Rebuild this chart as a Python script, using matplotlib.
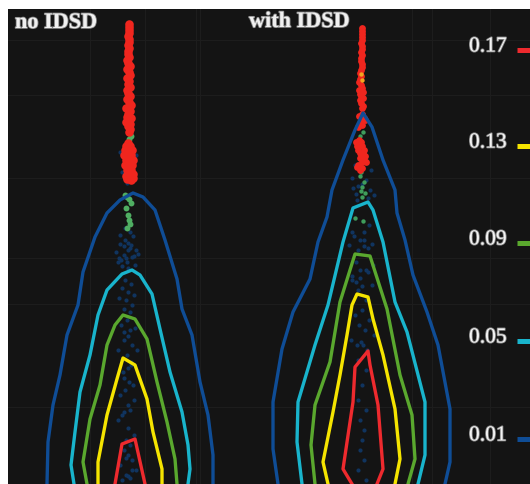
import matplotlib
matplotlib.use("Agg")
import matplotlib.pyplot as plt
import matplotlib.patheffects as pe

levels = ["0.17", "0.13", "0.09", "0.05", "0.01"]
level_colors = ["#ee2a2e", "#f5e400", "#5aa82e", "#19b4cc", "#0f4d96"]
legend_y = [50, 146, 243, 341, 439]
panel_titles = ["no IDSD", "with IDSD"]

# Contours: panel 1 (no IDSD)
p1_blue_x = [47,48,53,60,67,78,83,95,107,120,133,143,155,165,177,182,192,200,208,213,213]
p1_blue_y = [484,442,405,375,335,305,272,237,213,200,193,197,210,240,279,309,335,382,415,455,484]
p1_cyan_x = [74,71,75,80,90,98,107,122,132,140,152,160,170,182,188,190,188]
p1_cyan_y = [484,465,432,392,355,315,290,274,270,275,294,329,372,412,445,469,484]
p1_green_x = [87,83,90,100,107,115,123,135,147,157,167,175,177]
p1_green_y = [484,462,419,385,345,325,315,319,339,382,422,459,484]
p1_yellow_x = [98,98,107,117,123,135,147,153,162,162]
p1_yellow_y = [484,462,415,379,358,365,399,432,469,484]
p1_red_x = [115,122,135,145]
p1_red_y = [484,444,439,484]

# Contours: panel 2 (with IDSD)
p2_blue_x = [278,273,273,282,293,310,318,327,332,343,355,363,372,383,395,397,405,413,427,438,450,450,445]
p2_blue_y = [484,449,402,349,312,279,242,217,190,160,130,113,127,160,190,213,240,275,312,345,409,462,484]
p2_cyan_x = [302,297,298,315,328,343,353,368,373,383,395,407,425,425,418]
p2_cyan_y = [484,442,402,345,305,242,208,202,210,242,302,332,402,455,484]
p2_green_x = [315,311,315,330,340,355,370,387,400,412,415,408]
p2_green_y = [484,445,405,362,302,254,256,309,375,415,459,484]
p2_yellow_x = [328,323,333,340,347,352,357,368,373,383,395,400,395]
p2_yellow_y = [484,462,412,375,335,305,294,297,319,355,409,459,484]
p2_red_x = [352,343,353,355,368,370,378,383,377]
p2_red_y = [484,469,402,367,351,365,405,469,484]

# Scatter points, panel 1
p1_scat_red_x = [129,129,129,129,128,129,129,128,129,128,128,129,127,128,130,127,129,130,127,129,128,130,127,128,130,127,129,131,126,130,128,127,131,129,126,130,128,130,129,
                 128,126,130,125,129,132,124,128,131,126,130,133,125,129,132,127,131,128,133,126,130,129,133,127,131]
p1_scat_red_y = [24,27,30,33,36,39,42,45,48,51,54,57,60,63,66,69,72,75,78,81,84,87,90,93,96,99,102,105,108,111,114,117,118,120,122,124,126,129,132,
                 143,146,146,150,150,150,155,155,155,160,160,160,165,165,165,170,170,174,174,176,176,178,178,179,180]
p1_scat_green_x = [131,129,128,125,127,129,131,126,128,129,130,127]
p1_scat_green_y = [136,139,142,195,197,199,203,208,215,220,224,228]
p1_scat_blue_x = [120,136,122,134,127,120,125,131,128,124,132,121,127,135,119,130,125,133,116,124,128,136,118,126,134,122,130,138,120,128,
                  125,131,122,128,134,119,126,132,124,130,127,121,135,124,130,128,124,132,118,137,127,122,131,128,124,133,120,128,134,124,130,118,128,122,134,126,130,124,128,132,120,136,126,130,122,128,132,126,125,129,123,131]
p1_scat_blue_y = [152,155,172,178,183,235,240,245,250,255,257,260,262,265,258,232,228,236,252,246,243,250,262,258,256,266,248,254,244,268,
                  280,284,288,292,295,298,300,305,309,312,320,325,328,332,330,336,340,345,350,350,355,360,365,368,378,385,395,405,400,412,410,420,428,415,435,440,445,450,455,460,465,470,475,478,480,476,470,458,390,382,372,362]

# Scatter points, panel 2
p2_scat_red_x = [362,362,362,362,362,361,362,362,361,362,361,361,362,362,361,360,361,360,359,361,362,359,363,360,361,363,360,361,363,362,362,359,364,361,365,362,
                 358,362,359,356,361,357,362,358,364,360,363,361,365,360,364,358,362,357,362,360,366,359]
p2_scat_red_y = [28,31,34,37,40,43,46,49,52,55,58,61,64,67,70,73,76,79,82,85,88,90,92,94,96,98,100,103,106,108,114,116,118,122,120,125,
                 127,120,140,142,142,146,146,150,150,153,153,156,156,158,160,165,162,167,168,170,162,166]
p2_scat_orange_x = [361,362]
p2_scat_orange_y = [74,80]
p2_scat_green_x = [363,360,361,360,364,362,361,365,362,355,363]
p2_scat_green_y = [132,136,172,176,182,187,191,193,197,218,221]
p2_scat_blue_x = [355,371,353,374,357,369,352,364,349,368,356,373,360,352,372,358,366,362,355,369,359,365,351,374,361,357,367,363,358,366,362,358,366,360,364,362,360,364,358,366,
                  352,366,358,370,356,362,368,360,354,364,372,358,364,352,368,360,366,356,362]
p2_scat_blue_y = [165,170,188,195,200,225,232,240,245,248,262,265,270,280,285,290,300,310,315,320,325,330,340,335,342,345,350,345,360,370,385,400,410,420,430,440,450,460,470,480,
                  178,180,186,190,194,184,198,240,236,232,244,250,246,276,272,278,270,282,286]

# Faint background grid
grid_h = [40, 95, 178, 258, 304, 407]
grid_v = [90, 145, 196, 200, 412, 432, 490]

fig = plt.figure(figsize=(5.3, 4.84), dpi=100, facecolor="white")
ax = fig.add_axes([8/530, 0, 522/530, 475/484], facecolor="#141414")
ax.set_xlim(8, 530)
ax.set_ylim(484, 9)
ax.set_xticks([]); ax.set_yticks([])
for s in ax.spines.values():
    s.set_visible(False)

for y in grid_h:
    ax.axhline(y, color="#1d1d1d", lw=0.8, zorder=1)
for x in grid_v:
    ax.axvline(x, color="#1d1d1d", lw=0.8, zorder=1)

ax.scatter(p1_scat_blue_x, p1_scat_blue_y, s=9, color="#10345f", lw=0, zorder=2)
ax.scatter(p2_scat_blue_x, p2_scat_blue_y, s=9, color="#10345f", lw=0, zorder=2)
ax.scatter(p1_scat_green_x, p1_scat_green_y, s=18, color="#4fae62", lw=0, zorder=3)
ax.scatter(p2_scat_green_x, p2_scat_green_y, s=10, color="#3f9d5c", lw=0, zorder=3)
ax.scatter(p1_scat_red_x, p1_scat_red_y, s=38, color="#f0261e", lw=0, zorder=4)
ax.scatter(p2_scat_red_x, p2_scat_red_y, s=24, color="#f0261e", lw=0, zorder=4)
ax.scatter(p2_scat_orange_x, p2_scat_orange_y, s=10, color="#f2a61e", lw=0, zorder=5)

contours = [
    (p1_red_x, p1_red_y, p2_red_x, p2_red_y),
    (p1_yellow_x, p1_yellow_y, p2_yellow_x, p2_yellow_y),
    (p1_green_x, p1_green_y, p2_green_x, p2_green_y),
    (p1_cyan_x, p1_cyan_y, p2_cyan_x, p2_cyan_y),
    (p1_blue_x, p1_blue_y, p2_blue_x, p2_blue_y),
]
for (x1, y1, x2, y2), col in zip(contours, level_colors):
    ax.plot(x1, y1, color=col, lw=2.4, zorder=6, solid_joinstyle="round")
    ax.plot(x2, y2, color=col, lw=2.4, zorder=6, solid_joinstyle="round")

glow = [pe.withStroke(linewidth=1.2, foreground="#888888")]
serif = "Liberation Serif"
ax.text(15, 23, panel_titles[0], color="#f0f0f0", fontsize=16, family=serif, weight="bold",
        ha="left", va="center", path_effects=glow, zorder=8)
ax.text(249, 22, panel_titles[1], color="#f0f0f0", fontsize=16, family=serif, weight="bold",
        ha="left", va="center", path_effects=glow, zorder=8)

for lab, y, col in zip(levels, legend_y, level_colors):
    ax.text(469, y - 3, lab, color="#f4f4f4", fontsize=15.5, family=serif,
            ha="left", va="center", path_effects=glow, zorder=8)
    ax.plot([517, 530], [y, y], color=col, lw=3.6, solid_capstyle="butt", zorder=8)

fig.savefig("out.png", dpi=100, facecolor="white")
